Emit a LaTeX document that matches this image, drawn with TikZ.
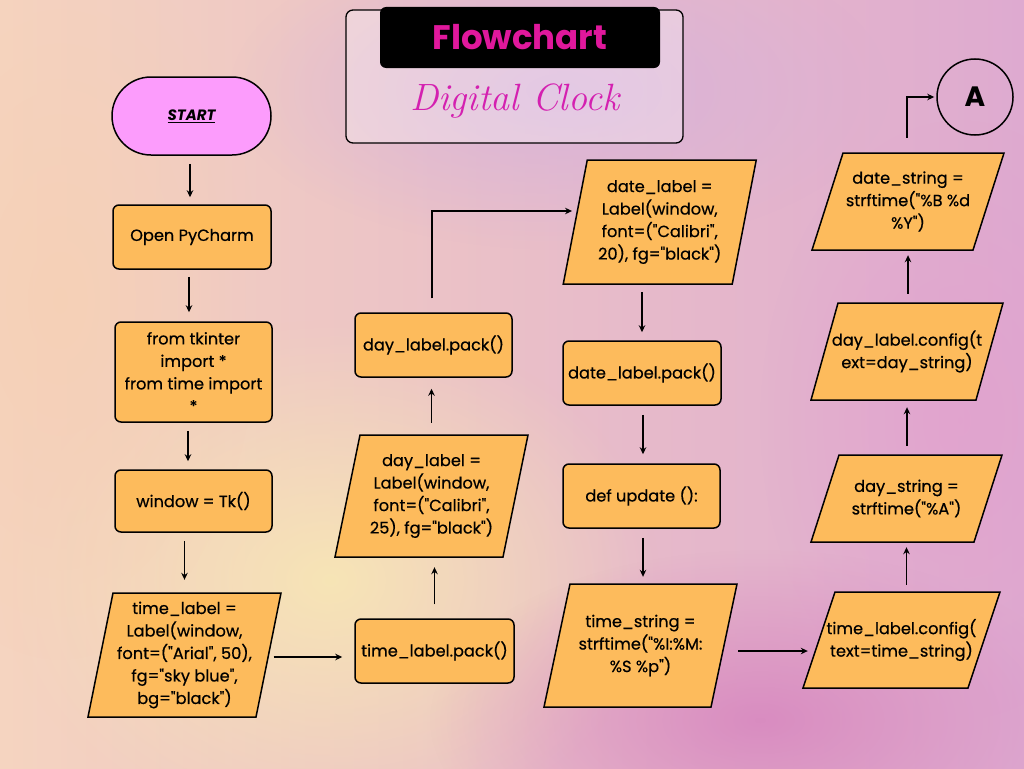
\documentclass[tikz,border=0pt]{standalone}
\usepackage{fontspec}
\newfontfamily\pop{Poppins}[FakeBold=0.5]
\newfontfamily\popb{Poppins}
\usetikzlibrary{arrows.meta,fadings,calc}
\definecolor{boxor}{HTML}{FDBB5C}
\definecolor{startc}{HTML}{FC9CFC}
\definecolor{mag}{HTML}{E0189C}
\definecolor{mag2}{HTML}{D420B0}
\definecolor{bgl}{RGB}{245,212,192}
\definecolor{bgm}{RGB}{234,192,212}
\definecolor{bgr}{RGB}{222,170,208}
\definecolor{gyel}{RGB}{248,232,180}
\definecolor{gpea}{RGB}{246,208,180}
\definecolor{glav}{RGB}{212,176,222}
\definecolor{gmag}{RGB}{214,130,190}
\definecolor{gpink}{RGB}{226,160,206}
\tikzfading[name=glow, inner color=transparent!0, outer color=transparent!100]
\tikzset{
  txt/.style={align=center, inner sep=0pt, font=\pop\fontsize{16.2}{22.5}\selectfont},
  box/.style={txt, draw=black, line width=1.5pt, fill=boxor, rounded corners=6pt},
  parabox/.style={draw=black, line width=1.5pt, fill=boxor},
  arr/.style={-{Stealth[length=7pt,width=6.5pt]}, line width=1.9pt},
}
\newcommand\paragon[7]{%
  \draw[parabox] ({#2-#4/2+#6/2},{#3-#5/2}) -- ({#2+#4/2+#6/2},{#3-#5/2}) -- ({#2+#4/2-#6/2},{#3+#5/2}) -- ({#2-#4/2-#6/2},{#3+#5/2}) -- cycle;
  \node[txt, minimum width=#4pt, minimum height=#5pt] (#1) at (#2,#3) {#7};}
\begin{document}
\begin{tikzpicture}[x=1pt,y=-1pt]
\useasboundingbox (0,0) rectangle (1024,768);
% background
\shade[left color=bgl, middle color=bgm, right color=bgr] (0,0) rectangle (1024,768);
\fill[gyel, path fading=glow, fill opacity=0.9] (330,580) ellipse (330 and 260);
\fill[gpea, path fading=glow, fill opacity=0.8] (60,300) ellipse (200 and 360);
\fill[glav, path fading=glow, fill opacity=0.8] (560,90) ellipse (330 and 160);
\fill[gmag, path fading=glow, fill opacity=0.8] (760,720) ellipse (330 and 170);
\fill[gpink, path fading=glow, fill opacity=0.7] (960,420) ellipse (200 and 300);
% title
\draw[line width=1.3pt, rounded corners=7pt, fill=white, fill opacity=0.3] (346,10) rectangle (683,143);
\node[fill=black, rounded corners=6pt, minimum width=280pt, minimum height=61pt, inner sep=0pt] (tbox) at (520,37.5) {};
\node[font=\popb\bfseries\fontsize{34}{34}\selectfont, text=mag] (ttl) at (tbox.center) {Flowchart};
\node[font=\itshape\fontsize{38}{38}\selectfont, text=mag2] (sub) at (515,101) {Digital Clock};
% start
\node[draw=black, line width=1.5pt, fill=startc, rounded corners=39pt, minimum width=159pt, minimum height=78pt, inner sep=0pt, font=\popb\bfseries\itshape\fontsize{15}{15}\selectfont] (start) at (191.5,116) {\underline{START}};
% left column
\node[box, minimum width=158pt, minimum height=64pt] (pyc) at (192,237) {Open PyCharm};
\node[box, minimum width=157pt, minimum height=100pt] (imp) at (193.5,372) {from tkinter\\import *\\from time import\\*};
\node[box, minimum width=157pt, minimum height=62pt] (win) at (193.5,501) {window = Tk()};
\paragon{tl}{184.5}{655}{168}{124}{25}{time\_label =\\Label(window,\\font=("Arial", 50),\\fg="sky blue",\\bg="black")}
% middle column
\node[box, minimum width=159pt, minimum height=64pt] (tlp) at (434.5,651) {time\_label.pack()};
\paragon{dl}{431.5}{496}{168}{122}{25}{day\_label =\\Label(window,\\font=("Calibri",\\25), fg="black")}
\node[box, minimum width=157pt, minimum height=64pt] (dlp) at (433.5,345) {day\_label.pack()};
% date column
\paragon{dtl}{659.75}{222}{169}{124}{24}{date\_label =\\Label(window,\\font=("Calibri",\\20), fg="black")}
\node[box, minimum width=158pt, minimum height=64pt] (dtp) at (642,373) {date\_label.pack()};
\node[box, minimum width=157pt, minimum height=64pt] (upd) at (641.5,496) {def update ():};
\paragon{ts}{640.5}{645.5}{167}{123}{26}{time\_string =\\strftime("\%I:\%M:\\\%S \%p")}
% right column
\paragon{tc}{901.5}{640}{165}{96}{32}{time\_label.config(\\text=time\_string)}
\paragon{ds}{906.5}{498.5}{163}{87}{28}{day\_string =\\strftime("\%A")}
\paragon{dc}{907}{351.5}{165}{97}{27}{day\_label.config(t\\ext=day\_string)}
\paragon{dst}{908}{201.5}{161}{97}{31}{date\_string =\\strftime("\%B \%d\\\%Y")}
\node[draw=black, line width=1.5pt, circle, minimum size=76pt, inner sep=0pt, font=\popb\bfseries\fontsize{28}{28}\selectfont] (A) at (975,97) {A};
% connectors
\draw[arr, shorten <=8pt, shorten >=7pt] ([xshift=-1.5pt]start.south) -- ([xshift=-2pt]pyc.north);
\draw[arr, shorten <=7pt, shorten >=9pt] ([xshift=-3pt]pyc.south) -- ([xshift=-4.5pt]imp.north);
\draw[arr, shorten <=8pt, shorten >=8pt] ([xshift=-5.5pt]imp.south) -- ([xshift=-5.5pt]win.north);
\draw[arr, shorten <=8pt, shorten >=13pt] (tl.north |- win.south) -- (tl.north);
\draw[arr, shorten <=5pt, shorten >=12pt] ([yshift=-2pt]tl.east) -- ([yshift=-2pt]tl.east -| tlp.west);
\draw[arr, shorten <=14pt, shorten >=10pt] (tlp.north) -- (tlp.north |- dl.south);
\draw[arr, shorten <=12pt, shorten >=11pt] (dl.north) -- (dl.north |- dlp.south);
\draw[arr, shorten <=14pt, shorten >=3pt] ([xshift=-1.5pt]dlp.north) |- ([yshift=11pt]dtl.west);
\draw[arr, shorten <=8pt, shorten >=8pt] (dtp.north |- dtl.south) -- (dtp.north);
\draw[arr, shorten <=9pt, shorten >=9pt] ([xshift=1pt]dtp.south) -- ([xshift=1.5pt]upd.north);
\draw[arr, shorten <=9pt, shorten >=7pt] ([xshift=1.5pt]upd.south) -- ([xshift=1.5pt]upd.south |- ts.north);
\draw[arr, shorten <=14pt, shorten >=11pt] ([yshift=-5.5pt]ts.east) -- ([yshift=-5.5pt]ts.east -| tc.west);
\draw[arr, shorten <=7pt, shorten >=5pt] (ds.south |- tc.north) -- (ds.south);
\draw[arr, shorten <=9pt, shorten >=7pt] (dc.south |- ds.north) -- (dc.south);
\draw[arr, shorten <=9pt, shorten >=5pt] (dst.south |- dc.north) -- (dst.south);
\draw[arr, shorten <=15pt, shorten >=2pt] ([xshift=-1pt]dst.north) |- (A.west);
\end{tikzpicture}
\end{document}
